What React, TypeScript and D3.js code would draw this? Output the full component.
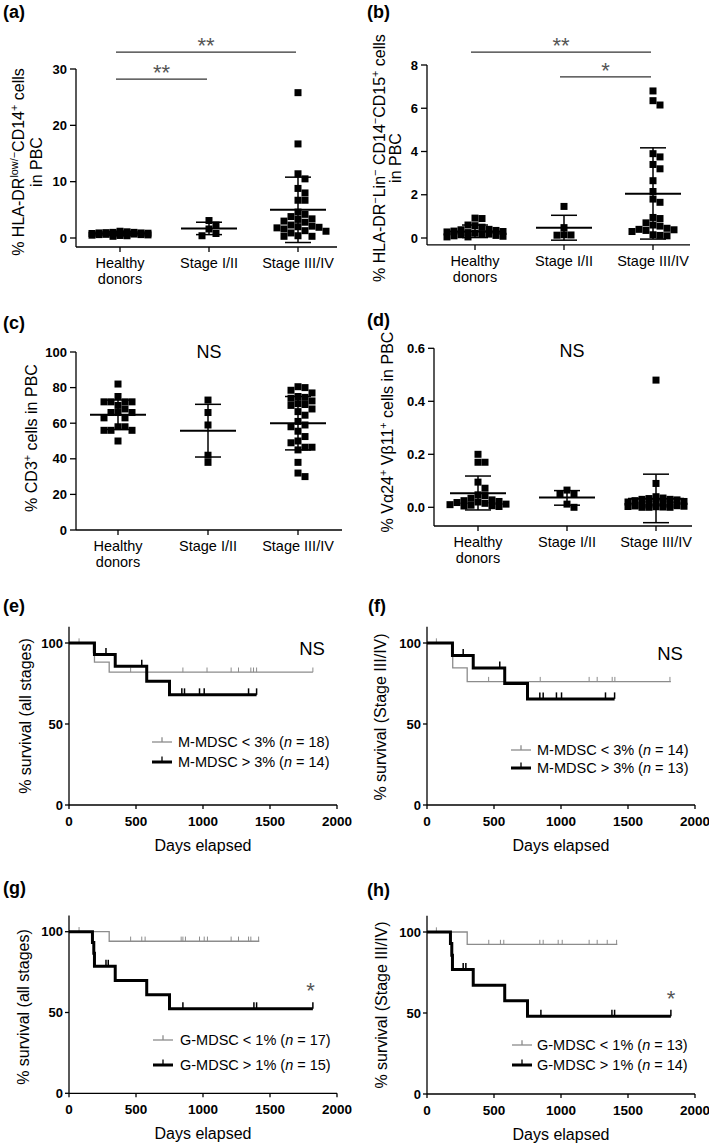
import React from 'react';
import * as d3 from 'd3';

const FONT = '"Liberation Sans", Arial, Helvetica, sans-serif';
const GRAY = '#8c8c8c';
const SQ = 7;

// ---- scatter plots (a)-(d) ----
const groupKeys = ['Healthy donors', 'Stage I/II', 'Stage III/IV'];
const groupLabels = [['Healthy', 'donors'], ['Stage I/II'], ['Stage III/IV']];

// (a) HLA-DR low/- CD14+ cells
const aHealthy = [1.2, 1.1, 1.0, 1.0, 0.95, 0.9, 0.9, 0.85, 0.8, 0.8, 0.75, 0.7, 0.7, 0.65, 0.6, 0.6, 0.55, 0.5, 0.45, 0.4, 0.3];
const aStage12 = [3.1, 2.3, 1.6, 0.8, 0.4];
const aStage34 = [25.8, 16.7, 11.4, 10.5, 8.8, 8.0, 6.7, 6.7, 4.6, 4.2, 3.8, 3.4, 3.3, 3.0, 2.8, 2.3, 2.1, 2.0, 1.9, 1.8, 1.6, 1.3, 1.2, 0.9, 0.4, 0.3, 0.3];
const aMean = [0.8, 1.7, 5.0];
const aSdHigh = [1.1, 2.8, 10.8];
const aSdLow = [0.5, 0.6, -0.8];
const aTicks = [0, 10, 20, 30];

// (b) HLA-DR- Lin- CD14- CD15+ cells
const bHealthy = [0.92, 0.9, 0.6, 0.57, 0.5, 0.4, 0.38, 0.35, 0.32, 0.3, 0.28, 0.25, 0.22, 0.2, 0.18, 0.15, 0.12, 0.1, 0.08, 0.05, 0.05];
const bStage12 = [1.46, 0.48, 0.15, 0.14, 0.13];
const bStage34 = [6.8, 6.35, 6.15, 3.9, 3.75, 3.4, 3.2, 2.65, 2.15, 1.8, 1.65, 0.95, 0.9, 0.7, 0.6, 0.55, 0.45, 0.4, 0.38, 0.35, 0.3, 0.15, 0.12, 0.1];
const bMean = [0.3, 0.47, 2.05];
const bSdHigh = [0.6, 1.05, 4.17];
const bSdLow = [0.02, -0.1, -0.05];
const bTicks = [0, 2, 4, 6, 8];

// (c) CD3+ cells
const cHealthy = [82, 75, 72, 72, 72, 72, 70, 68, 66, 66, 66, 63, 63, 58, 58, 56, 56, 56, 50];
const cStage12 = [73, 66, 59, 42, 38];
const cStage34 = [80.5, 80, 78.5, 77, 75, 74.5, 74, 72.5, 71, 70.5, 70, 68, 66.5, 64.5, 61, 59, 58, 55.5, 52.5, 50, 49, 46.5, 46.5, 45, 38, 32, 30];
const cMean = [64.8, 55.8, 60];
const cSdHigh = [73, 70.6, 75];
const cSdLow = [56.5, 41, 45];
const cTicks = [0, 20, 40, 60, 80, 100];

// (d) Va24+ Vb11+ cells
const dHealthy = [0.2, 0.17, 0.17, 0.095, 0.072, 0.047, 0.044, 0.034, 0.028, 0.025, 0.022, 0.02, 0.018, 0.015, 0.012, 0.01, 0.008, 0.006, 0.005, 0.003];
const dStage12 = [0.065, 0.052, 0.05, 0.012, 0.0];
const dStage34 = [0.48, 0.09, 0.04, 0.035, 0.033, 0.03, 0.03, 0.028, 0.025, 0.022, 0.02, 0.018, 0.015, 0.012, 0.01, 0.008, 0.006, 0.005, 0.004, 0.003, 0.002, 0.001, 0, 0, 0];
const dMean = [0.053, 0.037, 0.032];
const dSdHigh = [0.118, 0.063, 0.125];
const dSdLow = [-0.01, 0.008, -0.058];
const dTicks = [0, 0.2, 0.4, 0.6];

// ---- survival curves (e)-(h) ----
const kmTicksX = [0, 500, 1000, 1500, 2000];
const kmTicksY = [0, 50, 100];

// (e) M-MDSC, all stages
const eLowTimes = [182, 190, 300];
const eLowSurv = [94.1, 88.2, 82];
const eLowCensor = [75, 460, 850, 1030, 1210, 1265, 1357, 1377, 1400, 1820];
const eHighTimes = [190, 345, 580, 750];
const eHighSurv = [92.9, 85.7, 76.4, 68];
const eHighCensor = [276, 543, 842, 862, 974, 1009, 1340, 1400];

// (f) M-MDSC, stage III/IV
const fLowTimes = [185, 192, 300];
const fLowSurv = [92.3, 84.6, 76.2];
const fLowCensor = [70, 460, 845, 1210, 1270, 1382, 1402, 1813];
const fHighTimes = [190, 345, 580, 750];
const fHighSurv = [92.3, 84.6, 75, 65.5];
const fHighCensor = [270, 543, 842, 867, 966, 1004, 1332, 1400];

// (g) G-MDSC, all stages
const gLowTimes = [300];
const gLowSurv = [94.1];
const gLowCensor = [75, 460, 543, 568, 837, 850, 869, 974, 1009, 1033, 1210, 1265, 1340, 1357, 1415];
const gHighTimes = [175, 185, 190, 345, 580, 750];
const gHighSurv = [93.3, 86.7, 78.6, 69.8, 61, 52.3];
const gHighCensor = [276, 293, 850, 1380, 1400, 1820];

// (h) G-MDSC, stage III/IV
const hLowTimes = [300];
const hLowSurv = [92.3];
const hLowCensor = [70, 461, 548, 573, 842, 867, 979, 1009, 1210, 1270, 1345, 1415];
const hHighTimes = [175, 185, 190, 345, 580, 750];
const hHighSurv = [92.9, 85.7, 76.8, 67.2, 57.6, 48];
const hHighCensor = [270, 290, 850, 1380, 1400, 1820];

type Seg = { t: string; sup?: boolean; it?: boolean };

function Rich({ segs, fs }: { segs: Seg[]; fs: number }) {
  let shift = 0;
  return (
    <>
      {segs.map((s, i) => {
        const target = s.sup ? -fs * 0.38 : 0;
        const dy = target - shift;
        shift = target;
        return (
          <tspan key={i} dy={dy || undefined} fontSize={s.sup ? fs * 0.68 : undefined} fontStyle={s.it ? 'italic' : undefined}>
            {s.t}
          </tspan>
        );
      })}
    </>
  );
}

// simple beeswarm: offsets in px, largest values placed first
function swarm(vals: number[], y: (v: number) => number, size: number, maxOff: number) {
  const order = vals.map((_, i) => i).sort((a, b) => vals[b] - vals[a]);
  const cands = [0];
  const step = size / 2;
  for (let k = 1; k * step <= maxOff; k++) cands.push(k * step, -k * step);
  const placed: { dx: number; py: number }[] = [];
  const res = new Array(vals.length).fill(0);
  for (const i of order) {
    const py = y(vals[i]);
    let best = 0;
    let bestCost = Infinity;
    for (const dx of cands) {
      let cost = 0;
      for (const p of placed) {
        const ox = size - Math.abs(p.dx - dx);
        const oy = size - Math.abs(p.py - py);
        if (ox > 0 && oy > 0) cost += ox * oy;
      }
      if (cost < bestCost - 1e-6) {
        bestCost = cost;
        best = dx;
      }
    }
    placed.push({ dx: best, py });
    res[i] = best;
  }
  return res;
}

function ScatterPanel(p: any) {
  const y = d3.scaleLinear().domain([0, p.yMax]).range([p.y0, p.yT]);
  const x = d3.scalePoint<string>().domain(groupKeys).range([p.cx0, p.cx1]);
  const yb = y(p.yMin);
  return (
    <g>
      <line x1={p.axX0} x2={p.axX0} y1={y(p.yMax)} y2={yb} stroke="#000" strokeWidth={1.3} />
      <line x1={p.axX0} x2={p.axX1} y1={yb} y2={yb} stroke="#000" strokeWidth={1.3} />
      {p.ticks.map((t: number) => (
        <g key={t}>
          <line x1={p.axX0 - 6} x2={p.axX0} y1={y(t)} y2={y(t)} stroke="#000" strokeWidth={1.3} />
          <text x={p.axX0 - 9} y={y(t)} dy="0.35em" textAnchor="end" fontWeight="bold" fontSize={13}>
            {p.fmt(t)}
          </text>
        </g>
      ))}
      {groupKeys.map((k, i) => (
        <g key={k}>
          <line x1={x(k)} x2={x(k)} y1={yb} y2={yb + 5} stroke="#000" strokeWidth={1.3} />
          {groupLabels[i].map((l, j) => (
            <text key={l} x={x(k)} y={yb + 21 + j * 16} textAnchor="middle" fontSize={14.5}>
              {l}
            </text>
          ))}
        </g>
      ))}
      {p.groups.map((vals: number[], gi: number) => {
        const cx = x(groupKeys[gi]) as number;
        const offs = swarm(vals, y, SQ, 30);
        return vals.map((v, i) => (
          <rect key={gi + '-' + i} x={cx + offs[i] - SQ / 2} y={y(v) - SQ / 2} width={SQ} height={SQ} fill="#000" />
        ));
      })}
      {groupKeys.map((k, i) => {
        const cx = x(k) as number;
        return (
          <g key={'e' + k} stroke="#000">
            <line x1={cx} x2={cx} y1={y(p.lo[i])} y2={y(p.hi[i])} strokeWidth={1.5} />
            <line x1={cx - 13} x2={cx + 13} y1={y(p.lo[i])} y2={y(p.lo[i])} strokeWidth={1.5} />
            <line x1={cx - 13} x2={cx + 13} y1={y(p.hi[i])} y2={y(p.hi[i])} strokeWidth={1.5} />
            <line x1={cx - 28} x2={cx + 28} y1={y(p.mean[i])} y2={y(p.mean[i])} strokeWidth={2} />
          </g>
        );
      })}
      {(p.sig || []).map((s: any, i: number) => {
        const xa = (x(groupKeys[s.from]) as number) - 4;
        const xb = (x(groupKeys[s.to]) as number) - 2;
        return (
          <g key={'s' + i}>
            <line x1={xa} x2={xb} y1={y(s.at)} y2={y(s.at)} stroke="#333" strokeWidth={1.2} />
            <text x={(xa + xb) / 2} y={y(s.at) + 1} textAnchor="middle" fontSize={22} fill="#555">
              {s.label}
            </text>
          </g>
        );
      })}
    </g>
  );
}

function KMPanel(p: any) {
  const x = d3.scaleLinear().domain([0, 2000]).range([p.x0, p.x1]);
  const y = d3.scaleLinear().domain([0, 100]).range([p.y0, p.y100]);
  const line = d3
    .line<number[]>()
    .x((d) => x(d[0]))
    .y((d) => y(d[1]))
    .curve(d3.curveStepAfter);
  const pts = (times: number[], surv: number[], end: number) => [
    [0, 100],
    ...times.map((t, i) => [t, surv[i]]),
    [end, surv[surv.length - 1]],
  ];
  const at = (times: number[], surv: number[], t: number) => {
    let s = 100;
    times.forEach((tt, i) => {
      if (tt <= t) s = surv[i];
    });
    return s;
  };
  const curves = [
    { c: p.low, color: GRAY, w: 1.3, tw: 1, th: 4 },
    { c: p.high, color: '#000', w: 3, tw: 1.5, th: 5 },
  ];
  return (
    <g>
      <line x1={x(0)} x2={x(0)} y1={y(110)} y2={y(0)} stroke="#000" strokeWidth={1.3} />
      <line x1={x(0)} x2={x(2000)} y1={y(0)} y2={y(0)} stroke="#000" strokeWidth={1.3} />
      {kmTicksY.map((t) => (
        <g key={t}>
          <line x1={x(0) - 4} x2={x(0)} y1={y(t)} y2={y(t)} stroke="#000" strokeWidth={1.3} />
          <text x={x(0) - 6} y={y(t)} dy="0.35em" textAnchor="end" fontWeight="bold" fontSize={13}>
            {t}
          </text>
        </g>
      ))}
      {kmTicksX.map((t) => (
        <g key={t}>
          <line x1={x(t)} x2={x(t)} y1={y(0)} y2={y(0) + 4} stroke="#000" strokeWidth={1.3} />
          <text x={x(t)} y={y(0) + 21} textAnchor="middle" fontWeight="bold" fontSize={13.5}>
            {t}
          </text>
        </g>
      ))}
      <text x={(x(0) + x(2000)) / 2} y={y(0) + 46} textAnchor="middle" fontSize={16}>
        Days elapsed
      </text>
      {curves.map(({ c, color, w, tw, th }, i) => (
        <g key={i}>
          <path d={line(pts(c.times, c.surv, c.end) as any) || ''} fill="none" stroke={color} strokeWidth={w} />
          {c.censor.map((t: number, j: number) => {
            const yy = y(at(c.times, c.surv, t));
            return <line key={j} x1={x(t)} x2={x(t)} y1={yy - th - w / 2} y2={yy} stroke={color} strokeWidth={tw} />;
          })}
        </g>
      ))}
      {[
        { ly: p.leg.yLow, color: GRAY, w: 1.3, segs: p.lowLabel },
        { ly: p.leg.yHigh, color: '#000', w: 3, segs: p.highLabel },
      ].map((l, i) => (
        <g key={'l' + i}>
          <line x1={p.leg.x} x2={p.leg.x + 20} y1={l.ly} y2={l.ly} stroke={l.color} strokeWidth={l.w} />
          <line x1={p.leg.x + 10} x2={p.leg.x + 10} y1={l.ly - 4 - l.w / 2} y2={l.ly} stroke={l.color} strokeWidth={1.3} />
          <text x={p.leg.tx} y={l.ly} dy="0.35em" fontSize={14.5}>
            <Rich segs={l.segs} fs={14.5} />
          </text>
        </g>
      ))}
    </g>
  );
}

function YTitle({ x, y, segs, fs = 16 }: { x: number; y: number; segs: Seg[]; fs?: number }) {
  return (
    <text transform={`translate(${x},${y}) rotate(-90)`} textAnchor="middle" fontSize={fs}>
      <Rich segs={segs} fs={fs} />
    </text>
  );
}

function PanelLabel({ x, y, t }: { x: number; y: number; t: string }) {
  return (
    <text x={x} y={y} fontWeight="bold" fontSize={18}>
      {t}
    </text>
  );
}

const legendSegs = (name: string, op: string, pct: string, n: number): Seg[] => [
  { t: `${name} ${op} ${pct} (` },
  { t: 'n', it: true },
  { t: ` = ${n})` },
];

export default function App() {
  const f0 = d3.format('d');
  const f1 = d3.format('.1f');
  return (
    <svg
      width={709}
      height={1145}
      style={{ position: 'absolute', left: 0, top: 0, background: '#fff', fontFamily: FONT, whiteSpace: 'pre' }}
    >
      <rect width={709} height={1145} fill="#fff" />

      {/* (a) */}
      <PanelLabel x={3} y={18} t="(a)" />
      <YTitle x={24} y={162} segs={[{ t: '% HLA-DR' }, { t: 'low/\u2212', sup: true }, { t: 'CD14' }, { t: '+', sup: true }, { t: ' cells' }]} />
      <YTitle x={42} y={162} segs={[{ t: 'in PBC' }]} />
      <ScatterPanel
        groups={[aHealthy, aStage12, aStage34]}
        mean={aMean}
        hi={aSdHigh}
        lo={aSdLow}
        ticks={aTicks}
        fmt={f0}
        yMax={30}
        yMin={-1.6}
        y0={238}
        yT={69}
        axX0={76}
        axX1={337}
        cx0={120}
        cx1={298}
        sig={[
          { from: 0, to: 2, at: 33, label: '**' },
          { from: 0, to: 1, at: 28.2, label: '**' },
        ]}
      />

      {/* (b) */}
      <PanelLabel x={367} y={18} t="(b)" />
      <YTitle
        x={385}
        y={158}
        segs={[{ t: '% HLA-DR' }, { t: '\u2212', sup: true }, { t: 'Lin' }, { t: '\u2212', sup: true }, { t: ' CD14' }, { t: '\u2212', sup: true }, { t: 'CD15' }, { t: '+', sup: true }, { t: ' cells' }]}
      />
      <YTitle x={401} y={158} segs={[{ t: 'in PBC' }]} />
      <ScatterPanel
        groups={[bHealthy, bStage12, bStage34]}
        mean={bMean}
        hi={bSdHigh}
        lo={bSdLow}
        ticks={bTicks}
        fmt={f0}
        yMax={8}
        yMin={-0.32}
        y0={238}
        yT={65}
        axX0={427}
        axX1={690}
        cx0={475}
        cx1={653}
        sig={[
          { from: 0, to: 2, at: 8.6, label: '**' },
          { from: 1, to: 2, at: 7.45, label: '*' },
        ]}
      />

      {/* (c) */}
      <PanelLabel x={3} y={329} t="(c)" />
      <YTitle x={37} y={438} segs={[{ t: '% CD3' }, { t: '+', sup: true }, { t: ' cells in PBC' }]} />
      <text x={209} y={358} textAnchor="middle" fontSize={18}>NS</text>
      <ScatterPanel
        groups={[cHealthy, cStage12, cStage34]}
        mean={cMean}
        hi={cSdHigh}
        lo={cSdLow}
        ticks={cTicks}
        fmt={f0}
        yMax={100}
        yMin={0}
        y0={530}
        yT={352}
        axX0={76}
        axX1={342}
        cx0={118}
        cx1={298}
      />

      {/* (d) */}
      <PanelLabel x={367} y={326} t="(d)" />
      <YTitle
        x={393}
        y={432}
        segs={[{ t: '% V\u03b124' }, { t: '+', sup: true }, { t: ' V\u03b211' }, { t: '+', sup: true }, { t: ' cells in PBC' }]}
      />
      <text x={572} y={357} textAnchor="middle" fontSize={18}>NS</text>
      <ScatterPanel
        groups={[dHealthy, dStage12, dStage34]}
        mean={dMean}
        hi={dSdHigh}
        lo={dSdLow}
        ticks={dTicks}
        fmt={f1}
        yMax={0.6}
        yMin={-0.0706}
        y0={507.3}
        yT={348.3}
        axX0={434}
        axX1={692}
        cx0={478}
        cx1={656}
      />

      {/* (e) */}
      <PanelLabel x={3} y={612} t="(e)" />
      <YTitle x={31} y={716} segs={[{ t: '% survival (all stages)' }]} />
      <text x={312} y={655} textAnchor="middle" fontSize={18.5}>NS</text>
      <KMPanel
        x0={69}
        x1={337}
        y0={805}
        y100={643}
        low={{ times: eLowTimes, surv: eLowSurv, end: 1820, censor: eLowCensor }}
        high={{ times: eHighTimes, surv: eHighSurv, end: 1400, censor: eHighCensor }}
        leg={{ x: 152, tx: 178, yLow: 742, yHigh: 762 }}
        lowLabel={legendSegs('M-MDSC', '<', '3%', 18)}
        highLabel={legendSegs('M-MDSC', '>', '3%', 14)}
      />

      {/* (f) */}
      <PanelLabel x={368} y={612} t="(f)" />
      <YTitle x={386} y={717} segs={[{ t: '% survival (Stage III/IV)' }]} />
      <text x={670} y={660} textAnchor="middle" fontSize={18.5}>NS</text>
      <KMPanel
        x0={427}
        x1={695}
        y0={805}
        y100={643}
        low={{ times: fLowTimes, surv: fLowSurv, end: 1820, censor: fLowCensor }}
        high={{ times: fHighTimes, surv: fHighSurv, end: 1400, censor: fHighCensor }}
        leg={{ x: 511, tx: 537, yLow: 750, yHigh: 768 }}
        lowLabel={legendSegs('M-MDSC', '<', '3%', 14)}
        highLabel={legendSegs('M-MDSC', '>', '3%', 13)}
      />

      {/* (g) */}
      <PanelLabel x={3} y={894} t="(g)" />
      <YTitle x={29} y={1007} segs={[{ t: '% survival (all stages)' }]} />
      <text x={310.5} y={998} textAnchor="middle" fontSize={22} fill="#555">*</text>
      <KMPanel
        x0={69}
        x1={337}
        y0={1093.3}
        y100={931.7}
        low={{ times: gLowTimes, surv: gLowSurv, end: 1420, censor: gLowCensor }}
        high={{ times: gHighTimes, surv: gHighSurv, end: 1820, censor: gHighCensor }}
        leg={{ x: 153, tx: 180, yLow: 1040, yHigh: 1065 }}
        lowLabel={legendSegs('G-MDSC', '<', '1%', 17)}
        highLabel={legendSegs('G-MDSC', '>', '1%', 15)}
      />

      {/* (h) */}
      <PanelLabel x={367} y={896} t="(h)" />
      <YTitle x={387} y={1005} segs={[{ t: '% survival (Stage III/IV)' }]} />
      <text x={671} y={1006} textAnchor="middle" fontSize={22} fill="#555">*</text>
      <KMPanel
        x0={427}
        x1={695}
        y0={1094}
        y100={932}
        low={{ times: hLowTimes, surv: hLowSurv, end: 1420, censor: hLowCensor }}
        high={{ times: hHighTimes, surv: hHighSurv, end: 1820, censor: hHighCensor }}
        leg={{ x: 512, tx: 537, yLow: 1045, yHigh: 1065 }}
        lowLabel={legendSegs('G-MDSC', '<', '1%', 13)}
        highLabel={legendSegs('G-MDSC', '>', '1%', 14)}
      />
    </svg>
  );
}
